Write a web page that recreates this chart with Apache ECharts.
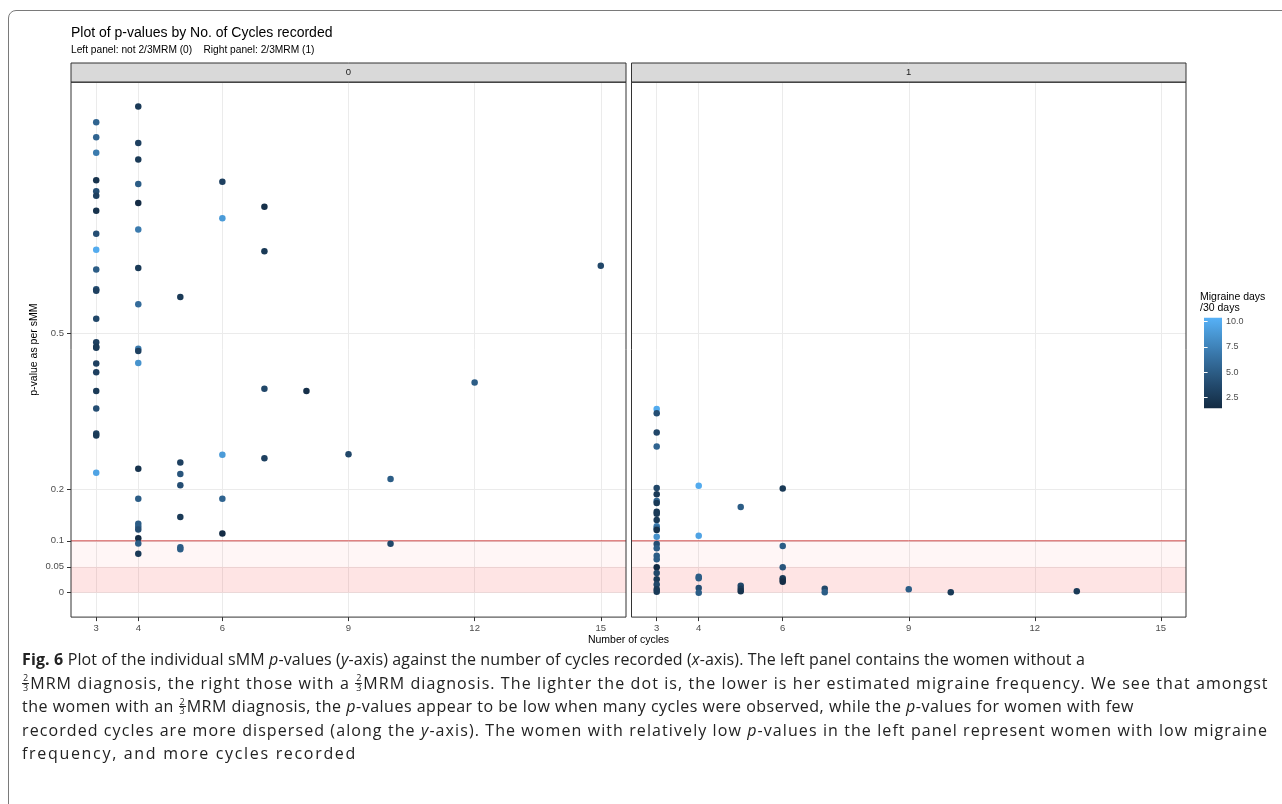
<!DOCTYPE html>
<html>
<head>
<meta charset="utf-8">
<script src="https://cdn.jsdelivr.net/npm/echarts@6/dist/echarts.min.js"></script>
<style>
  html, body { margin:0; padding:0; width:1282px; height:804px; overflow:hidden; background:#fff; }
  #frame { position:absolute; left:8px; top:10px; width:1320px; height:840px; border:1px solid #7a7a7a; border-radius:8px; box-sizing:border-box; z-index:0; }
  #chart { position:absolute; left:0; top:0; width:1282px; height:804px; z-index:1; }
  #caption { position:absolute; left:22px; top:648px; width:1260px; font-family:"Open Sans", "Noto Sans", sans-serif; font-size:16px; line-height:23.5px; color:#222; z-index:2; white-space:nowrap; }
  #caption .ln { display:block; height:23.5px; }
  #caption b { font-weight:700; }
  .fr { display:inline-block; vertical-align:middle; font-size:9px; line-height:8.5px; text-align:center; margin:0 1px 0 0; position:relative; top:-1px; letter-spacing:0; }
  .fr span { display:block; }
  .fr .num { border-bottom:0.8px solid #222; padding:0 1px; }
</style>
</head>
<body>
<div id="frame"></div>
<div id="chart"></div>
<div id="caption">
<span class="ln"><b>Fig. 6</b> Plot of the individual sMM <i>p</i>-values (<i>y</i>-axis) against the number of cycles recorded (<i>x</i>-axis). The left panel contains the women without a</span>
<span class="ln"><span class="fr"><span class="num">2</span><span>3</span></span>MRM diagnosis, the right those with a <span class="fr"><span class="num">2</span><span>3</span></span>MRM diagnosis. The lighter the dot is, the lower is her estimated migraine frequency. We see that amongst</span>
<span class="ln">the women with an <span class="fr"><span class="num">2</span><span>3</span></span>MRM diagnosis, the <i>p</i>-values appear to be low when many cycles were observed, while the <i>p</i>-values for women with few</span>
<span class="ln">recorded cycles are more dispersed (along the <i>y</i>-axis). The women with relatively low <i>p</i>-values in the left panel represent women with low migraine</span>
<span class="ln">frequency, and more cycles recorded</span>
</div>
<script>
// ---------------- DATA ----------------
const panelLabels = ['0', '1'];
const xTicks = [3, 4, 6, 9, 12, 15];
const yTicks = [0, 0.05, 0.1, 0.2, 0.5];
const legendTicks = [2.5, 5, 7.5, 10];

// Left panel (not 2/3MRM)
const cycles0 = [3,3,3,3,3,3,3,3,3,3,3,3,3,3,3,3,3,3,3,3,3,3,3,
                 4,4,4,4,4,4,4,4,4,4,4,4,4,4,4,4,4,4,4,
                 5,5,5,5,5,5,5,
                 6,6,6,6,6,
                 7,7,7,7,
                 8, 9, 10,10, 12, 15];
const pvals0 = [0.907,0.878,0.848,0.795,0.774,0.765,0.736,0.692,0.661,0.623,0.585,0.582,0.528,0.483,0.474,0.472,0.442,0.425,0.389,0.355,0.307,0.303,0.231,
                0.937,0.867,0.835,0.788,0.751,0.700,0.626,0.556,0.470,0.466,0.443,0.239,0.181,0.133,0.127,0.122,0.105,0.095,0.075,
                0.570,0.251,0.229,0.207,0.146,0.0875,0.0836,
                0.792,0.722,0.266,0.181,0.114,
                0.744,0.658,0.393,0.259,
                0.389, 0.267, 0.219,0.0944, 0.405, 0.630];
const days0 = [5.5,5.5,7,2,4,3,2,4,10,5,4,3,3.5,3,2.5,2.5,3,3,2.5,4,3,2.5,9.5,
               2.5,3,2.5,5,1.5,7,2.5,6,7,3,8.5,2,5,5,5,4,1.4,5,2.5,
               2.5,3,4.5,4,2.5,5,5,
               3,9,9,5.5,1.5,
               1.8,2.5,3.5,3,
               1.8, 3.5, 5,3.5, 5, 3.5];

// Right panel (2/3MRM)
const cycles1 = [3,3,3,3,3,3,3,3,3,3,3,3,3,3,3,3,3,3,3,3,3,3,3,3,3,
                 4,4,4,4,4,4,
                 5,5,5,5,
                 6,6,6,6,6,6,
                 7,7, 9, 10, 13];
const pvals1 = [0.354,0.346,0.309,0.282,0.202,0.190,0.177,0.173,0.156,0.152,0.140,0.128,0.124,0.121,0.108,0.0939,0.0856,0.0713,0.0644,0.049,0.038,0.026,0.016,0.0066,0.002,
                0.206,0.110,0.031,0.028,0.009,0.0,
                0.165,0.0135,0.0077,0.003,
                0.201,0.090,0.049,0.028,0.0245,0.021,
                0.0077,0.001, 0.0066, 0.0008, 0.003];
const days1 = [10,4,3.5,5.5,3.5,2.5,5.5,2.5,2.5,2.5,2.5,7,5.5,2,8.5,4,5,5,5,1.4,3.5,2.5,3.5,2.5,2.5,
               10,9.5,5,5,4,5,
               5,3.5,2.5,2,
               2.5,5,4.5,2.5,2,1.5,
               3.5,5, 5, 2.5, 2.5];

// significance bands and threshold line
const bandLow = [0, 0.05];
const bandHigh = [0.05, 0.1];
const threshold = 0.1;

// ------------- colour ramp (ggplot default, Lab interpolation) -------------
const LOW = '#132B43', HIGH = '#56B1F7';
const CMIN = 1.4, CMAX = 10.4;
function hex2rgb(h){return [parseInt(h.slice(1,3),16),parseInt(h.slice(3,5),16),parseInt(h.slice(5,7),16)];}
function lin(c){c/=255;return c<=0.04045?c/12.92:Math.pow((c+0.055)/1.055,2.4);}
function unlin(c){const v=c<=0.0031308?12.92*c:1.055*Math.pow(c,1/2.4)-0.055;return Math.round(Math.max(0,Math.min(1,v))*255);}
const Xn=0.95047,Yn=1,Zn=1.08883;
function f(t){return t>0.008856?Math.cbrt(t):7.787*t+16/116;}
function fi(t){return t*t*t>0.008856?t*t*t:(t-16/116)/7.787;}
function rgb2lab(rgb){const r=lin(rgb[0]),g=lin(rgb[1]),b=lin(rgb[2]);
  const X=0.4124*r+0.3576*g+0.1805*b,Y=0.2126*r+0.7152*g+0.0722*b,Z=0.0193*r+0.1192*g+0.9505*b;
  const fx=f(X/Xn),fy=f(Y/Yn),fz=f(Z/Zn);return [116*fy-16,500*(fx-fy),200*(fy-fz)];}
function lab2hex(lab){const fy=(lab[0]+16)/116,fx=fy+lab[1]/500,fz=fy-lab[2]/200;
  const X=Xn*fi(fx),Y=Yn*fi(fy),Z=Zn*fi(fz);
  const r=3.2406*X-1.5372*Y-0.4986*Z,g=-0.9689*X+1.8758*Y+0.0415*Z,b=0.0557*X-0.2040*Y+1.0570*Z;
  return '#'+[unlin(r),unlin(g),unlin(b)].map(v=>v.toString(16).padStart(2,'0')).join('');}
const labLo=rgb2lab(hex2rgb(LOW)), labHi=rgb2lab(hex2rgb(HIGH));
const rampStops=[];
for(let i=0;i<=12;i++){const t=i/12;rampStops.push(lab2hex([0,1,2].map(k=>labLo[k]+(labHi[k]-labLo[k])*t)));}

// ------------- caption line fitting -------------
const captionLineEnds = [1085, 1273, 1135, 1268, 357];
(function fitCaption(){
  const lines = document.querySelectorAll('#caption .ln');
  lines.forEach((ln,i)=>{
    const inner = document.createElement('span');
    while(ln.firstChild) inner.appendChild(ln.firstChild);
    ln.appendChild(inner);
    const w = inner.getBoundingClientRect().width;
    const target = captionLineEnds[i] - 22;
    const n = inner.textContent.replace(/\s+/g,' ').trim().length;
    const ls = (target - w) / n;
    inner.style.letterSpacing = ls.toFixed(3)+'px';
  });
})();

// ------------- build -------------
const data0 = cycles0.map((c,i)=>[c,pvals0[i],days0[i]]);
const data1 = cycles1.map((c,i)=>[c,pvals1[i],days1[i]]);

const FONT = '"Liberation Sans", Arial, sans-serif';
const XMIN = 2.4, XMAX = 15.6, YMIN = -0.047, YMAX = 0.984;
const gridTop = 82.2, gridH = 534.9;
const grids = [
  {left:71, top:gridTop, width:555, height:gridH},
  {left:631.5, top:gridTop, width:554.5, height:gridH}
];

function xAxisFor(i){
  return {type:'value', gridIndex:i, min:XMIN, max:XMAX,
    axisLine:{show:false, onZero:false},
    axisTick:{show:true, customValues:xTicks, length:4, lineStyle:{color:'#333', width:1}},
    axisLabel:{show:true, customValues:xTicks, color:'#4d4d4d', fontSize:9.5, fontFamily:FONT, margin:6},
    splitLine:{show:true, lineStyle:{color:'#ebebeb', width:1}}};
}
function yAxisFor(i){
  return {type:'value', gridIndex:i, min:YMIN, max:YMAX,
    name: i===0 ? 'p-value as per sMM' : '',
    nameLocation:'middle', nameGap:31, nameRotate:90,
    nameTextStyle:{color:'#000', fontSize:10.5, fontFamily:FONT},
    axisLine:{show:false, onZero:false},
    axisTick:{show:i===0, customValues:yTicks, length:4, lineStyle:{color:'#333', width:1}},
    axisLabel:{show:i===0, customValues:yTicks, color:'#4d4d4d', fontSize:9.5, fontFamily:FONT, margin:7,
      formatter:v=>String(+v.toFixed(2))},
    splitLine:{show:true, lineStyle:{color:'#ebebeb', width:1}}};
}
function pointSeries(i, data){
  return {type:'scatter', xAxisIndex:i, yAxisIndex:i, data:data, symbolSize:6.5, z:5,
    itemStyle:{opacity:1}};
}
function bandSeries(i){
  return {type:'scatter', xAxisIndex:i, yAxisIndex:i, data:[], z:3, silent:true,
    markArea:{silent:true,
      data:[[{yAxis:bandLow[0], itemStyle:{color:'rgba(250,0,0,0.105)', borderWidth:0}},{yAxis:bandLow[1]}],
            [{yAxis:bandHigh[0], itemStyle:{color:'rgba(250,0,0,0.035)', borderWidth:0}},{yAxis:bandHigh[1]}]]}
  };
}
function thresholdSeries(i){
  return {type:'line', xAxisIndex:i, yAxisIndex:i, z:4, silent:true, symbol:'none',
    data:[[XMIN, threshold],[XMAX, threshold]],
    lineStyle:{color:'#d04a4a', width:1, type:'solid'}, itemStyle:{color:'#d04a4a'}};
}

const chart = echarts.init(document.getElementById('chart'), null, {renderer:'canvas'});

const strips = grids.map((g,i)=>({
  type:'group', children:[
    {type:'rect', shape:{x:g.left, y:63, width:g.width, height:gridTop-63},
     style:{fill:'#d9d9d9', stroke:'#333', lineWidth:1}, z:10},
    {type:'text', x:g.left+g.width/2, y:(63+gridTop)/2,
     style:{text:panelLabels[i], fill:'#1a1a1a', font:'9.5px '+FONT, align:'center', verticalAlign:'middle'}, z:11}
  ]}));
const borders = grids.map(g=>({type:'rect', shape:{x:g.left, y:g.top, width:g.width, height:g.height},
  style:{fill:null, stroke:'#333', lineWidth:1}, z:20, silent:true}));

const legendStops = rampStops.map((c,i)=>({offset:1-i/(rampStops.length-1), color:c}));

const option = {
  backgroundColor:'transparent',
  animation:false,
  grid:[...grids, {left:1204, top:317.7, width:18, height:90.6}],
  xAxis:[xAxisFor(0), xAxisFor(1), {type:'value', gridIndex:2, show:false}],
  yAxis:[yAxisFor(0), yAxisFor(1),
    {type:'value', gridIndex:2, min:CMIN, max:CMAX, position:'right', z:10,
     axisLine:{show:false},
     axisTick:{show:true, inside:true, customValues:legendTicks, length:3.6, lineStyle:{color:'#fff', width:1}},
     axisLabel:{show:true, customValues:legendTicks, color:'#4d4d4d', fontSize:9, fontFamily:FONT, margin:4,
       formatter:v=>Number(v).toFixed(1)},
     splitLine:{show:false}},
    {type:'value', gridIndex:2, min:CMIN, max:CMAX, position:'left', z:10,
     axisLine:{show:false},
     axisTick:{show:true, inside:true, customValues:legendTicks, length:3.6, lineStyle:{color:'#fff', width:1}},
     axisLabel:{show:false}, splitLine:{show:false}}
  ],
  visualMap:{type:'continuous', show:false, min:CMIN, max:CMAX, dimension:2, seriesIndex:[0,1],
    inRange:{color:rampStops}},
  series:[pointSeries(0,data0), pointSeries(1,data1), bandSeries(0), bandSeries(1), thresholdSeries(0), thresholdSeries(1)],
  graphic:[
    {type:'text', x:71, y:33, style:{text:'Plot of p-values by No. of Cycles recorded', fill:'#000', font:'14px '+FONT, verticalAlign:'middle'}},
    {type:'text', x:71, y:50, style:{text:'Left panel: not 2/3MRM (0)    Right panel: 2/3MRM (1)', fill:'#000', font:'10.2px '+FONT, verticalAlign:'middle'}},
    ...strips, ...borders,
    {type:'text', x:628.5, y:640, style:{text:'Number of cycles', fill:'#000', font:'10.5px '+FONT, align:'center', verticalAlign:'middle'}},
    {type:'text', x:1200, y:291, style:{text:'Migraine days\n/30 days', fill:'#000', font:'10.5px '+FONT, lineHeight:11.5, verticalAlign:'top'}},
    {type:'rect', shape:{x:1204, y:317.7, width:18, height:90.6}, z:1,
     style:{fill:new echarts.graphic.LinearGradient(0,0,0,1,legendStops)}}
  ]
};
chart.setOption(option);
</script>
</body>
</html>
